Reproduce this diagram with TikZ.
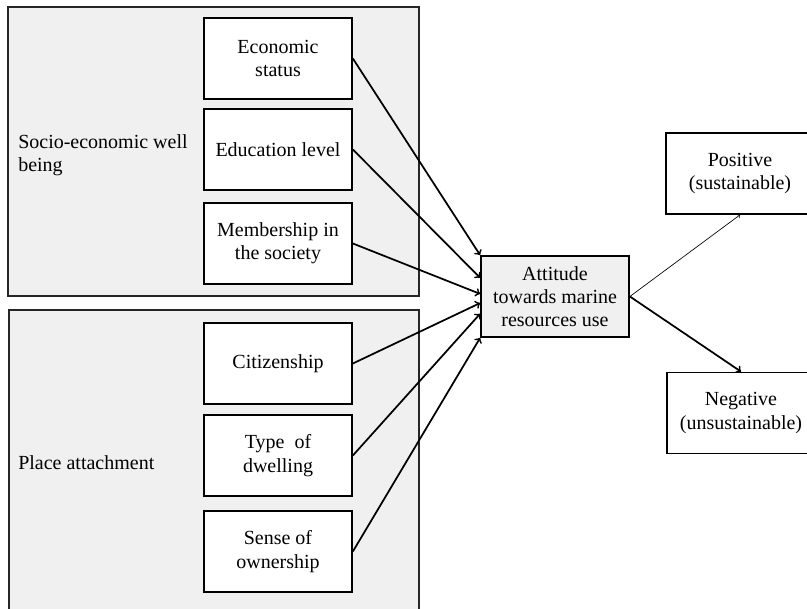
\documentclass[tikz,border=0pt]{standalone}
\usepackage{fontspec}
\setmainfont{Liberation Serif}
\usetikzlibrary{positioning}

\begin{document}
\begin{tikzpicture}
            [
                x=0.75pt, y=-0.75pt,
                font=\fontsize{15}{17.5}\selectfont
            ]
            \tikzset{
                groupbox/.style = {draw=black!85, fill=black!6, line width=1pt},
                itembox/.style = {rectangle, draw=black, fill=white, line width=1.3pt, align=center,
                                  minimum width=111pt, minimum height=60.75pt, inner sep=2pt},
                grouplabel/.style = {anchor=west, align=left, inner sep=0pt},
                linkarrow/.style = {->, line width=1.3pt}
            }
            \useasboundingbox (0,0) rectangle (807,609);
            % the two groups
            \draw[groupbox] (8,7) rectangle (419,296);
            \draw[groupbox] (9,310) rectangle (419,625);
            \node[grouplabel] (GS) at (18,155) {Socio-economic well\\being};
            \node[grouplabel] (GP) at (18,463) {Place attachment};
            % factors
            \node[itembox] (eco) at (278,58.5) {Economic\\status};
            \node[itembox] (edu) at (278,149.5) {Education level};
            \node[itembox] (mem) at (278,243.5) {Membership in\\the society};
            \node[itembox] (cit) at (278,363.5) {Citizenship};
            \node[itembox] (dwe) at (278,455.5) {Type~~of\\dwelling};
            \node[itembox] (own) at (278,551.5) {Sense of\\ownership};
            % attitude and outcomes
            \node[itembox, fill=black!6] (att) at (555,296.5) {Attitude\\towards marine\\resources use};
            \node[itembox] (pos) at (740,173.5) {Positive\\(sustainable)};
            \node[itembox] (neg) at (741,413) {Negative\\(unsustainable)};
            \draw[linkarrow] (eco.east) -- (att.north west);
            \draw[linkarrow] (edu.east) -- (att.166);
            \draw[linkarrow] (mem.east) -- (att.178);
            \draw[linkarrow] (cit.east) -- (att.185);
            \draw[linkarrow] (dwe.east) -- (att.193);
            \draw[linkarrow] (own.east) -- (att.south west);
            \draw[->, line width=0.5pt] (att.east) -- (pos.south);
            \draw[linkarrow] (att.east) -- (neg.north);
        \end{tikzpicture}
\end{document}
